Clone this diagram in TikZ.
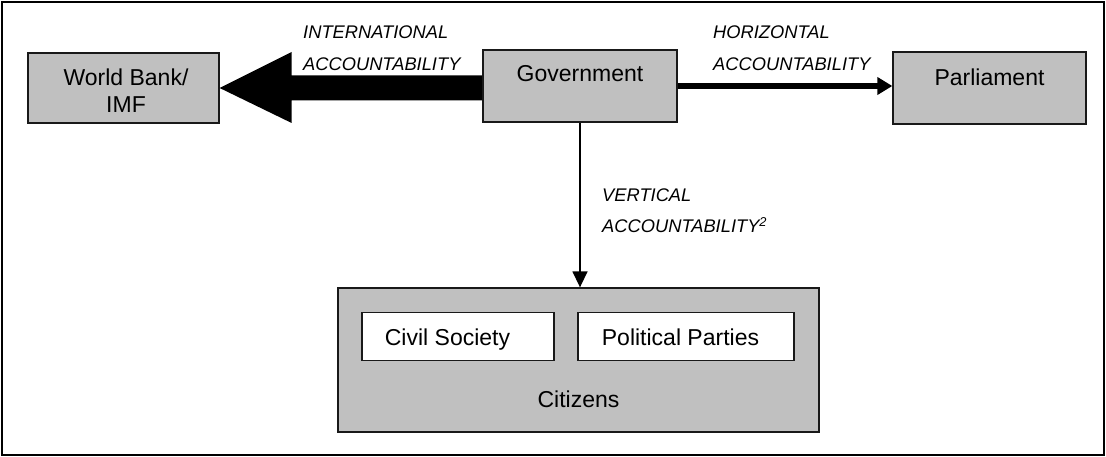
\documentclass[tikz,border=0pt]{standalone}
\usepackage{fontspec}
\setmainfont{Liberation Sans}
\usetikzlibrary{arrows.meta,calc}
\definecolor{boxgray}{RGB}{192,192,192}
\pgfdeclarelayer{bg}
\pgfsetlayers{bg,main}
\begin{document}
\begin{tikzpicture}[x=1pt,y=-1pt,
  box/.style={draw=black!90, line width=1.3pt, fill=boxgray, inner sep=0pt},
  wbox/.style={draw=black!90, line width=1.3pt, fill=white, inner sep=0pt},
  txt/.style={font=\fontsize{23}{27}\selectfont, inner sep=0pt, anchor=base, align=center},
  lab/.style={font=\fontsize{18.3}{32}\selectfont\itshape, inner sep=0pt, anchor=base west, align=left},
  conn/.style={draw=black},
]
\useasboundingbox (0,0) rectangle (1106,457);
\draw[line width=1.5pt] (2,2) rectangle (1104,455);

% boxes
\node[box, minimum width=191pt, minimum height=70pt] (wb) at (123.5,88) {};
\node[box, minimum width=194pt, minimum height=72pt] (gov) at (580,86) {};
\node[box, minimum width=193pt, minimum height=72pt] (parl) at (989.5,88) {};
\node[box, minimum width=481pt, minimum height=144pt] (cit) at (578.5,360) {};
\node[wbox, minimum width=192pt, minimum height=48pt] (cs) at (458,336.5) {};
\node[wbox, minimum width=216pt, minimum height=48pt] (pp) at (686,336.5) {};

% texts (multi-line nodes: base = last line's baseline)
\node[txt] (wbt) at (126,113) {World Bank/\\IMF};
\node[txt] (govt) at (580,82) {Government};
\node[txt] (parlt) at (989.5,86) {Parliament};
\node[txt] (cst) at (447.5,345) {Civil Society};
\node[txt] (ppt) at (680.5,345) {Political Parties};
\node[txt] (citt) at (578.5,407) {Citizens};

% labels
\node[lab] (intl) at (303,70.5) {INTERNATIONAL\\ACCOUNTABILITY};
\node[lab] (horl) at (713,70.5) {HORIZONTAL\\ACCOUNTABILITY};
\node[lab, font=\fontsize{18.3}{31}\selectfont\itshape] (verl) at (602,232.5) {VERTICAL\\ACCOUNTABILITY\textsuperscript{2}};

% connectors
\begin{pgfonlayer}{bg}
\fill[black] ($(gov.west |- wb.east)+(0,-12.5)$) -- ($(wb.east)+(72,-12.5)$)
  -- ($(wb.east)+(72,-36)$) -- (wb.east) -- ($(wb.east)+(72,35)$)
  -- ($(wb.east)+(72,12.5)$) -- ($(gov.west |- wb.east)+(0,12.5)$) -- cycle;
\draw[conn, line width=6pt, -{Triangle[length=15pt,width=17pt]}] (gov.east) -- (gov.east -| parl.west);
\draw[conn, line width=1.5pt, -{Triangle[length=16pt,width=15pt]}] (gov.south) -- (gov.south |- cit.north);
\end{pgfonlayer}
\end{tikzpicture}
\end{document}
